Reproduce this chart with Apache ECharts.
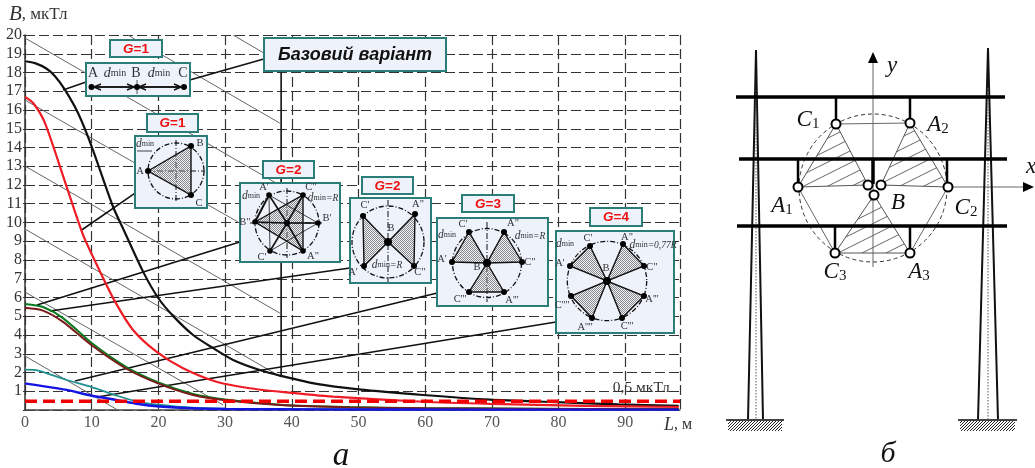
<!DOCTYPE html>
<html><head><meta charset="utf-8">
<style>html,body{margin:0;padding:0;background:#fff}#c{width:1035px;height:468px}</style>
<script src="https://cdn.jsdelivr.net/npm/echarts@6/dist/echarts.min.js"></script>
</head><body><div id="c"></div>
<script>
const xTicks=[0,10,20,30,40,50,60,70,80,90];
const curveBase=[[0,18.6],[1.5,18.5],[3.25,18.2],[4.5,17.8],[6,17.07],[8,15.8],[10,14.05],[13.2,10.84],[14.8,9.6],[17.7,7.38],[20,5.96],[22.3,4.98],[25.2,4],[28.2,3.3],[31.2,2.67],[35.2,2.13],[38.5,1.81],[43.7,1.39],[50,1.1],[59.7,0.8],[69.7,0.55],[79.7,0.42],[89,0.3],[98,0.22]];
const curveG1Triangle=[[0,16.7],[1.25,16.36],[3,15.3],[6.25,11.9],[8.75,9.3],[11,7.57],[13.5,5.78],[16.2,4.27],[19.75,3.1],[23.7,2.23],[28.7,1.51],[33.7,1.16],[38.8,0.95],[46.2,0.71],[59.7,0.44],[69.7,0.33],[84,0.22],[98,0.16]];
const curveG2Star=[[0,5.65],[2.7,5.49],[5.7,4.9],[10,3.57],[15.2,2.29],[20.2,1.44],[25.2,0.85],[30,0.56],[38.8,0.27],[48.7,0.16],[60,0.1],[72,0.08],[85,0.06],[98,0.05]];
const curveG2Bow=[[0,5.45],[2.7,5.3],[5.7,4.7],[10,3.45],[15.2,2.2],[20.2,1.38],[25.2,0.8],[30,0.52],[38.8,0.25],[48.7,0.14],[60,0.09],[72,0.07],[85,0.05],[98,0.04]];
const curveG3=[[0,2.15],[2,2.1],[6.25,1.6],[10,1.22],[13.8,0.76],[17.2,0.42],[20,0.28],[25,0.12],[30,0.07],[38,0.05],[50,0.04],[65,0.03],[80,0.03],[98,0.03]];
const curveG4=[[0,1.42],[1.25,1.35],[6.25,1.07],[10,0.76],[13.8,0.53],[17,0.32],[20.2,0.19],[25,0.09],[30,0.05],[38,0.04],[50,0.03],[65,0.02],[80,0.02],[98,0.02]];
const limitLine=[[0,0.47],[98.2,0.47]];
const diagonals=[[[31.2,20],[35.8,19.04]],[[15.4,20],[38.2,15.3]],[[0,19.84],[38.4,11.95]],[[0,16.53],[32.2,9.97]],[[0,13.01],[38.2,5.17]],[[0,9.65],[38.4,1.76]],[[0,6.29],[29.7,0.27]],[[0,2.88],[13.9,0]]];
const callouts=[[[5.7,17.07],[9.15,17.49]],[[24.7,17.6],[35.8,18.72]],[[38.4,18],[38.4,1.8]],[[8.5,9.6],[16.5,11.57]],[[1.8,5.6],[32.2,8.96]],[[3.75,5.28],[48.7,7.57]],[[7.5,1.55],[61.8,6.24]],[[10.8,0.69],[79.6,4.69]]];
const limitLabel=[[92.4,1.18]];
const SERIF='"Liberation Serif",serif', SANS='"Liberation Sans",sans-serif';

function pixelHatch(n,color,back){
  const c=document.createElement('canvas');c.width=n;c.height=n;const g=c.getContext('2d');
  g.fillStyle=color;
  for(let i=0;i<n;i++){g.fillRect(i,back?i:n-1-i,1,1);}
  return c;
}
function wideHatch(w,h,color,lw){
  const c=document.createElement('canvas');c.width=w;c.height=h;const g=c.getContext('2d');
  g.strokeStyle=color;g.lineWidth=lw;g.beginPath();
  g.moveTo(0,h);g.lineTo(w,0);g.moveTo(-w,h);g.lineTo(w,-h);g.moveTo(0,2*h);g.lineTo(2*w,0);
  g.stroke();return c;
}
const fine={image:pixelHatch(2,'#8a8a8a',true),repeat:'repeat'};
const wide={image:wideHatch(24,12,'#555',0.9),repeat:'repeat'};
const ground={image:pixelHatch(3,'#222',false),repeat:'repeat'};

const L=(x1,y1,x2,y2,lw,dash,c)=>({type:'line',shape:{x1,y1,x2,y2},style:{stroke:c||'#111',lineWidth:lw||1,lineDash:dash||null,fill:null}});
const T=(x,y,text,size,extra)=>({type:'text',style:Object.assign({x,y,text,fontSize:size||10.5,fontFamily:SERIF,fill:'#333',align:'center',verticalAlign:'middle'},extra||{})});
const dmin=(x,y,suf,big)=>T(x,y,'{i|d}{s|min}'+(suf?'{n|'+suf+'}':''),11,{rich:{i:{fontStyle:'italic',fontSize:big?14:11.5,fontFamily:SERIF,fill:'#333'},s:{fontSize:big?10:8,fontFamily:SERIF,fill:'#333'},n:{fontSize:9.5,fontStyle:'italic',fontFamily:SERIF,fill:'#333'}}});
const dot=(x,y,r)=>({type:'circle',shape:{cx:x,cy:y,r:r||3},style:{fill:'#000'}});
const tri=(p)=>({type:'polygon',shape:{points:p},style:{fill:fine,stroke:'#111',lineWidth:1.4}});
const ring=(cx,cy,r)=>({type:'circle',shape:{cx,cy,r},style:{fill:'none',stroke:'#111',lineWidth:1.3,lineDash:[5,2,1,2]}});
const box=(x1,y1,x2,y2)=>({type:'rect',shape:{x:x1,y:y1,width:x2-x1,height:y2-y1},style:{fill:'#eef3fb',stroke:'#2a7d78',lineWidth:2}});
const gTag=(x1,y1,x2,y2,v)=>[box(x1,y1,x2,y2),T((x1+x2)/2,(y1+y2)/2+0.5,'{g|G}{v|='+v+'}',13.5,{rich:{g:{fontStyle:'italic',fontWeight:'bold',fontSize:13.5,fontFamily:SANS,fill:'#f01010'},v:{fontWeight:'bold',fontSize:13.5,fontFamily:SANS,fill:'#f01010'}}})];
const arrow=(x1,x2,y)=>{const d=x2>x1?1:-1;return [L(x1,y,x2,y,1.6),L(x2,y,x2-d*7,y-3,1.4),L(x2,y,x2-d*7,y+3,1.4)];};
const cross=(cx,y1,y2,cy,x1,x2)=>[L(cx,y1,cx,y2,1,[6,2,1,2]),L(x1,cy,x2,cy,1,[6,2,1,2])];
const spokes=(c,ps,lw)=>ps.map(p=>L(c[0],c[1],p[0],p[1],lw||1.6));

function insetChildren(){
  let k=[];
  k.push(box(264,38,446,71),T(355,55,'Базовий варіант',18,{fontFamily:SANS,fontWeight:'bold',fontStyle:'italic',fill:'#111'}));
  k.push(...gTag(110,40,162,57,1),box(86,63,190,96));
  k.push(T(93,73,'A',14),dmin(115,73,null,true),T(136,73,'B',14),dmin(159,73,null,true),T(183,73,'C',14));
  k.push(...arrow(94,134,87),...arrow(134,94,87),...arrow(139,181,87),...arrow(181,139,87),L(137,80,137,94,1,null,'#555'),dot(91.5,87),dot(137,87),dot(184,87));
  k.push(...gTag(147,114,198,132,1),box(135,136,207,208));
  k.push(ring(176,171,28),...cross(176,140,202,171,146,205));
  k.push(tri([[148,171],[191,146],[191,195]]),dot(148,171),dot(191,146),dot(191,195));
  k.push(dmin(145,144),L(137,151,152,151,0.8),T(200,143,'B'),T(140,171,'A'),T(199,203,'C'));
  const c2=[287,223],n2=[[269,195],[303,195],[255,222],[318,223],[270,251],[303,251]];
  k.push(...gTag(263,161,314,178,2),box(240,183,340,262));
  k.push(ring(287,223,32),...cross(287,188,258,223,250,324));
  k.push(tri([[255,222],[303,195],[303,251]]));
  k.push(...spokes(c2,n2),L(269,195,255,222,2),L(269,195,318,223,0.8),L(270,251,318,223,0.8),L(269,195,270,251,0.8));
  n2.forEach(p=>k.push(dot(p[0],p[1],2.8)));k.push(dot(287,223,3));
  k.push(dmin(251,196),T(264,187,"A'"),T(311,187,'C"'),dmin(323,198,'=R'),T(245,222,'B"'),T(327,218,"B'"),T(262,257,"C'"),T(313,256,'A"'));
  k.push(...gTag(362,177,413,194,2),box(350,198,431,283));
  k.push(ring(388,242,36),L(388,200,388,282,1,[6,2,1,2]));
  k.push(tri([[363,216],[364,266],[388,242]]),tri([[415,214],[414,266],[388,242]]));
  k.push(dot(363,216),dot(415,214),dot(364,266),dot(414,266),dot(388,242,4));
  k.push(T(365,205,"C'"),T(418,204,'A"'),T(391,228,'B'),T(353,272,"A'"),dmin(387,265,'=R'),T(420,272,'C"'));
  k.push(...gTag(462,195,514,212,3),box(437,218,548,306));
  k.push(ring(487,263,34.5),L(487,222,487,302,1,[6,2,1,2]));
  [[[469,232],[452,262]],[[504,232],[522,262]],[[469,292],[504,292]]].forEach(t=>{k.push(tri([t[0],t[1],[487,263]]),dot(t[0][0],t[0][1]),dot(t[1][0],t[1][1]));});
  k.push(dot(487,263,4));
  k.push(T(463,224,"C'"),T(513,223,'A"'),dmin(447,235),dmin(530,236,'=R'),T(442,259,"A'"),T(530,262,'C"'),T(477,267,'B'),T(460,299,"C'''"),T(512,300,"A'''"));
  k.push(...gTag(590,208,642,226,4),box(556,231,674,333));
  k.push(ring(607,281,39.7));
  [[[570,266],[590,246]],[[623,244],[644,266]],[[644,296],[622,318]],[[592,318],[571,296]]].forEach(t=>{k.push(tri([t[0],t[1],[607,281]]),dot(t[0][0],t[0][1]),dot(t[1][0],t[1][1]));});
  k.push(dot(607,281,4));
  k.push(T(588,238,"C'"),T(627,237,'A"'),dmin(565,244),dmin(653,245,'=0,77R'),T(560,263,"A'"),T(652,267,'C"'),T(606,268,'B'),T(652,299,"A'''"),T(562,305,"C''''"),T(585,327,"A''''"),T(627,326,"C'''"));
  return k;
}

function renderInsets(params,api){
  const o=api.coord([0,0]);
  return {type:'group',x:o[0]-25,y:o[1]-410,children:insetChildren()};
}
function renderLimit(params,api){
  const p=api.coord([api.value(0),api.value(1)]);
  return T(p[0],p[1],'0,5 мкТл',15.5,{fill:'#333'});
}

const panelBars=[[736,1005,97],[739,1007,159],[737,1007,226]];
const towers=[{apex:[756,50],l:748,r:763,g1:726,g2:784,h1:728,h2:782},{apex:[988,48],l:978,r:998,g1:958,g2:1017,h1:960,h2:1015}];
const nodes={C1:[836,124],A2:[910,123],A1:[798,187],C2:[948,187],C3:[835,253],A3:[910,253],B:[874,195],Bl:[868,185],Br:[881,185]};
const hangers=[[836,97,124],[910,97,123],[798,159,187],[947,159,187],[835,226,253],[910,226,253]];
const ph={C1:[808,120],A2:[938,125],A1:[782,206],C2:[966,208],C3:[835,272],A3:[919,272]};

function renderPanel(params,api){
  const P=(x,y)=>api.coord([x,y]);
  const Ln=(x1,y1,x2,y2,lw,dash,c)=>{const a=P(x1,y1),b=P(x2,y2);return L(a[0],a[1],b[0],b[1],lw,dash,c);};
  const k=[];
  const c=P(873,188);
  k.push({type:'circle',shape:{cx:c[0],cy:c[1],r:74},style:{fill:'none',stroke:'#333',lineWidth:1,lineDash:[4,3]}});
  const pg=(a)=>({type:'polygon',shape:{points:a.map(n=>P(n[0],n[1]))},style:{fill:wide,stroke:'#555',lineWidth:1}});
  k.push(pg([nodes.C1,nodes.A1,nodes.Bl]),pg([nodes.A2,nodes.Br,nodes.C2]),pg([nodes.B,nodes.C3,nodes.A3]));
  k.push(Ln(836,124,910,123,1,null,'#666'),Ln(798,187,835,253,1,null,'#666'),Ln(910,253,948,187,1,null,'#666'));
  k.push(Ln(873,267,873,60,1,null,'#666'),Ln(948,187,1025,187,1,null,'#666'));
  let a=P(873,52),b=P(868,63),d=P(878,63);
  k.push({type:'polygon',shape:{points:[a,b,d]},style:{fill:'#000'}});
  a=P(1034,187);b=P(1023,182);d=P(1023,192);
  k.push({type:'polygon',shape:{points:[a,b,d]},style:{fill:'#000'}});
  towers.forEach(t=>{
    k.push(Ln(t.apex[0],t.apex[1],t.l,420,2),Ln(t.apex[0],t.apex[1],t.r,420,2),Ln(t.apex[0],t.apex[1]+40,t.apex[0],420,1,[1.5,1.5],'#555'));
    k.push(Ln(t.g1,420,t.g2,420,2,null,'#444'));
    const q=P(t.h1,421),r=P(t.h2,431);
    k.push({type:'rect',shape:{x:q[0],y:q[1],width:r[0]-q[0],height:r[1]-q[1]},style:{fill:ground}});
  });
  panelBars.forEach(r=>k.push(Ln(r[0],r[2],r[1],r[2],3.5,null,'#000')));
  hangers.forEach(r=>k.push(Ln(r[0],r[1],r[0],r[2],2.5,null,'#000')));
  k.push(Ln(873,159,873,184,3.5,null,'#000'));
  Object.values(nodes).forEach(n=>{const m=P(n[0],n[1]);k.push({type:'circle',shape:{cx:m[0],cy:m[1],r:4.5},style:{fill:'#fff',stroke:'#000',lineWidth:2}});});
  const rich={i:{fontStyle:'italic',fontSize:23,fontFamily:SERIF,fill:'#111'},s:{fontSize:15,fontFamily:SERIF,fill:'#111',padding:[9,0,0,0]}};
  Object.keys(ph).forEach(n=>{const m=P(ph[n][0],ph[n][1]);k.push(T(m[0],m[1],'{i|'+n[0]+'}{s|'+n[1]+'}',23,{rich}));});
  const txt=(x,y,s)=>{const m=P(x,y);return T(m[0],m[1],s,23,{fontStyle:'italic',fill:'#111'});};
  k.push(txt(898,203,'B'),txt(892,66,'y'),txt(1031,167,'x'));
  return {type:'group',children:k};
}

const mk=(name,data,color,w)=>({name,type:'line',data,smooth:0.25,symbol:'none',lineStyle:{color,width:w},z:3});
const guide=(data,color,w,z)=>({type:'line',data,symbol:'none',lineStyle:{color,width:w},z,silent:true});

const series=[];
diagonals.forEach(d=>series.push(guide(d,'#666',1,2)));
callouts.forEach(d=>series.push(guide(d,'#111',1.6,2)));
series.push(mk('Базовий варіант',curveBase,'#111',2.2),mk('G=1',curveG1Triangle,'#ee1c25',2.2),mk('G=3',curveG3,'#1f8f8f',1.8),mk('G=2 a',curveG2Star,'#0a7a1e',2),mk('G=2 b',curveG2Bow,'#7a1a1a',2),mk('G=4',curveG4,'#1414e0',2.4));
series.push({type:'line',data:limitLine,symbol:'none',lineStyle:{color:'#f00000',width:3.5,type:[12,6]},z:4});
series.push({type:'custom',data:limitLabel,renderItem:renderLimit,z:5,silent:true});
series.push({type:'custom',data:[[0,0]],renderItem:renderInsets,z:6,silent:true,clip:false});
series.push({type:'custom',xAxisIndex:1,yAxisIndex:1,data:[[720,0]],renderItem:renderPanel,z:6,silent:true,clip:false});

const dashLine={show:true,lineStyle:{color:'#333',width:1.2,type:[10,4]}};
const chart=echarts.init(document.getElementById('c'),null,{renderer:'canvas'});
chart.setOption({
  animation:false,backgroundColor:'#fff',
  grid:[{left:25,right:355,top:35,bottom:58},{left:720,right:0,top:0,bottom:0}],
  xAxis:[{type:'value',min:0,max:98.2,interval:10,splitLine:dashLine,
    axisLine:{show:true,onZero:false,lineStyle:{color:'#444',width:1.5}},axisTick:{show:false},
    axisLabel:{margin:5,fontSize:16,fontFamily:SERIF,color:'#555',showMaxLabel:false,
      formatter:v=>xTicks.includes(v)?String(v):''},
    name:'{i|L}{n|, м}',nameLocation:'end',nameGap:-16,
    nameTextStyle:{verticalAlign:'top',padding:[6,0,0,0],rich:{i:{fontStyle:'italic',fontSize:18,fontFamily:SERIF,color:'#333'},n:{fontSize:16,fontFamily:SERIF,color:'#333'}}}},
    {type:'value',gridIndex:1,min:720,max:1035,show:false}],
  yAxis:[{type:'value',min:0,max:20,interval:1,splitLine:dashLine,
    axisLine:{show:true,lineStyle:{color:'#333',width:1.5}},axisTick:{show:true,length:2,lineStyle:{color:'#333'}},
    axisLabel:{margin:3,fontSize:16,fontFamily:SERIF,color:'#333',formatter:v=>v===0?'':String(v)},
    name:'{i|B}{n|, мкТл}',nameLocation:'end',nameGap:10,
    nameTextStyle:{align:'left',padding:[0,0,0,-16],rich:{i:{fontStyle:'italic',fontSize:21,fontFamily:SERIF,color:'#333'},n:{fontSize:17,fontFamily:SERIF,color:'#333'}}}},
    {type:'value',gridIndex:1,min:0,max:468,inverse:true,show:false}],
  graphic:[{type:'text',x:341,y:456,style:{text:'а',fontSize:33,fontFamily:SERIF,fontStyle:'italic',fill:'#111',align:'center',verticalAlign:'middle'}},
           {type:'text',x:888,y:454,style:{text:'б',fontSize:30,fontFamily:SERIF,fontStyle:'italic',fill:'#111',align:'center',verticalAlign:'middle'}}],
  series
});
</script></body></html>
